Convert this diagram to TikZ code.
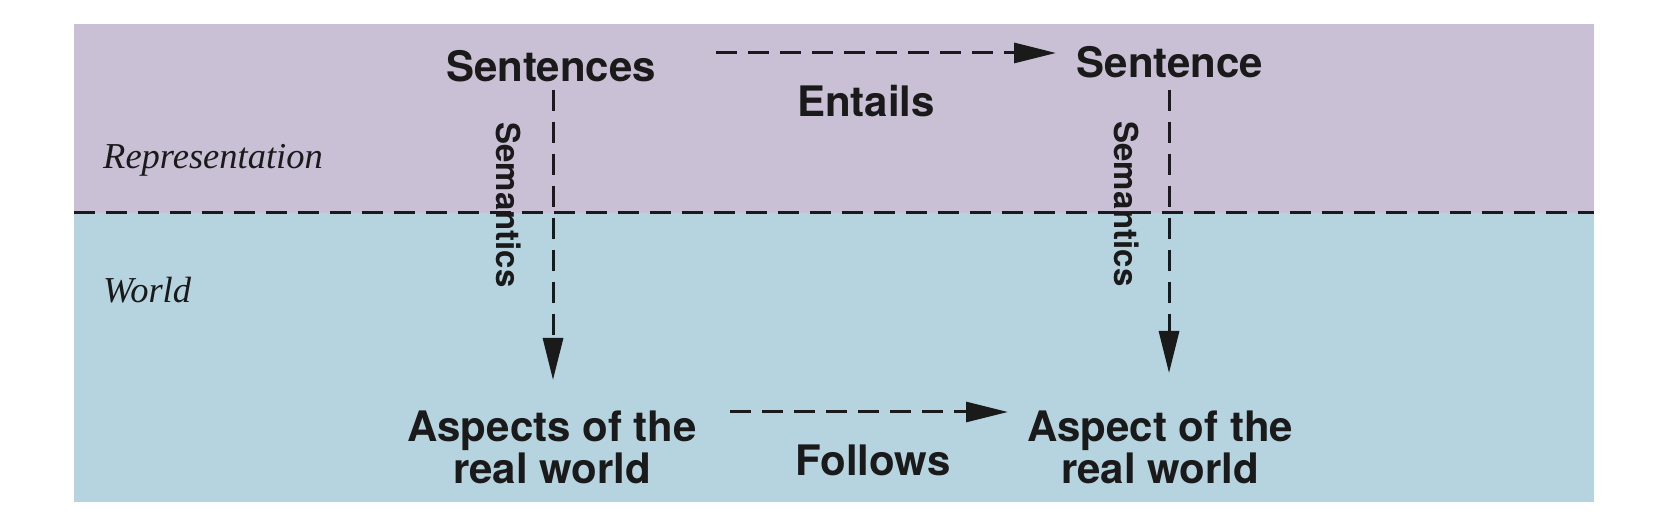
\documentclass[tikz,border=0pt]{standalone}
\usepackage{fontspec}
\newfontfamily\hv{TeX Gyre Heros}
\newfontfamily\tm{Liberation Serif}
\usetikzlibrary{arrows.meta}
\definecolor{reprcol}{RGB}{202,192,213}
\definecolor{worldcol}{RGB}{182,212,223}
\definecolor{ink}{RGB}{26,26,26}
\tikzset{
  x=1pt, y=1pt,
  bigtext/.style={inner sep=0pt, text=ink, font=\hv\bfseries\fontsize{42}{42}\selectfont, align=center},
  semtext/.style={inner sep=0pt, text=ink, font=\hv\bfseries\fontsize{33}{33}\selectfont, rotate=-90},
  areatext/.style={inner sep=0pt, text=ink, font=\tm\itshape\fontsize{36.5}{36.5}\selectfont, anchor=base west},
  dashline/.style={draw=ink, line width=3pt, dash pattern=on 21pt off 11pt},
  arr/.style={dashline, -{Triangle[length=42pt,width=20pt]}}
}
\begin{document}
\begin{tikzpicture}
\useasboundingbox (0,0) rectangle (1664,530);
\fill[reprcol] (74,317) rectangle (1594,506);
\fill[worldcol] (74,28) rectangle (1594,317);
\coordinate (divL) at (74,317);
\coordinate (divR) at (1594,317);
\draw[dashline] (divL) -- (divR);

\node[areatext] (repr) at (103,361) {Representation};
\node[areatext] (world) at (103,227) {World};

\node[bigtext, anchor=base] (sentences) at (551,448) {Sentences};
\node[bigtext, anchor=base] (sentence) at (1170,452) {Sentence};
\node[bigtext, anchor=base] (entails) at (866,413) {Entails};
\node[bigtext] (aspects) at (552,83) {Aspects of the\\real world};
\node[bigtext] (aspect) at (1160,83) {Aspect of the\\real world};
\node[bigtext, anchor=base] (follows) at (873,55) {Follows};

\node[semtext] (semL) at (509,325) {Semantics};
\node[semtext] (semR) at (1127,326) {Semantics};

\coordinate (e1) at (716,477);
\coordinate (e2) at (1056,477);
\coordinate (f1) at (730,118);
\coordinate (f2) at (1008,118);
\coordinate (l1) at (553,440);
\coordinate (l2) at (553,150);
\coordinate (r1) at (1169,440);
\coordinate (r2) at (1169,157);

\draw[arr] (e1) -- (e2);
\draw[arr] (f1) -- (f2);
\draw[arr] (l1) -- (l2);
\draw[arr] (r1) -- (r2);
\end{tikzpicture}
\end{document}
